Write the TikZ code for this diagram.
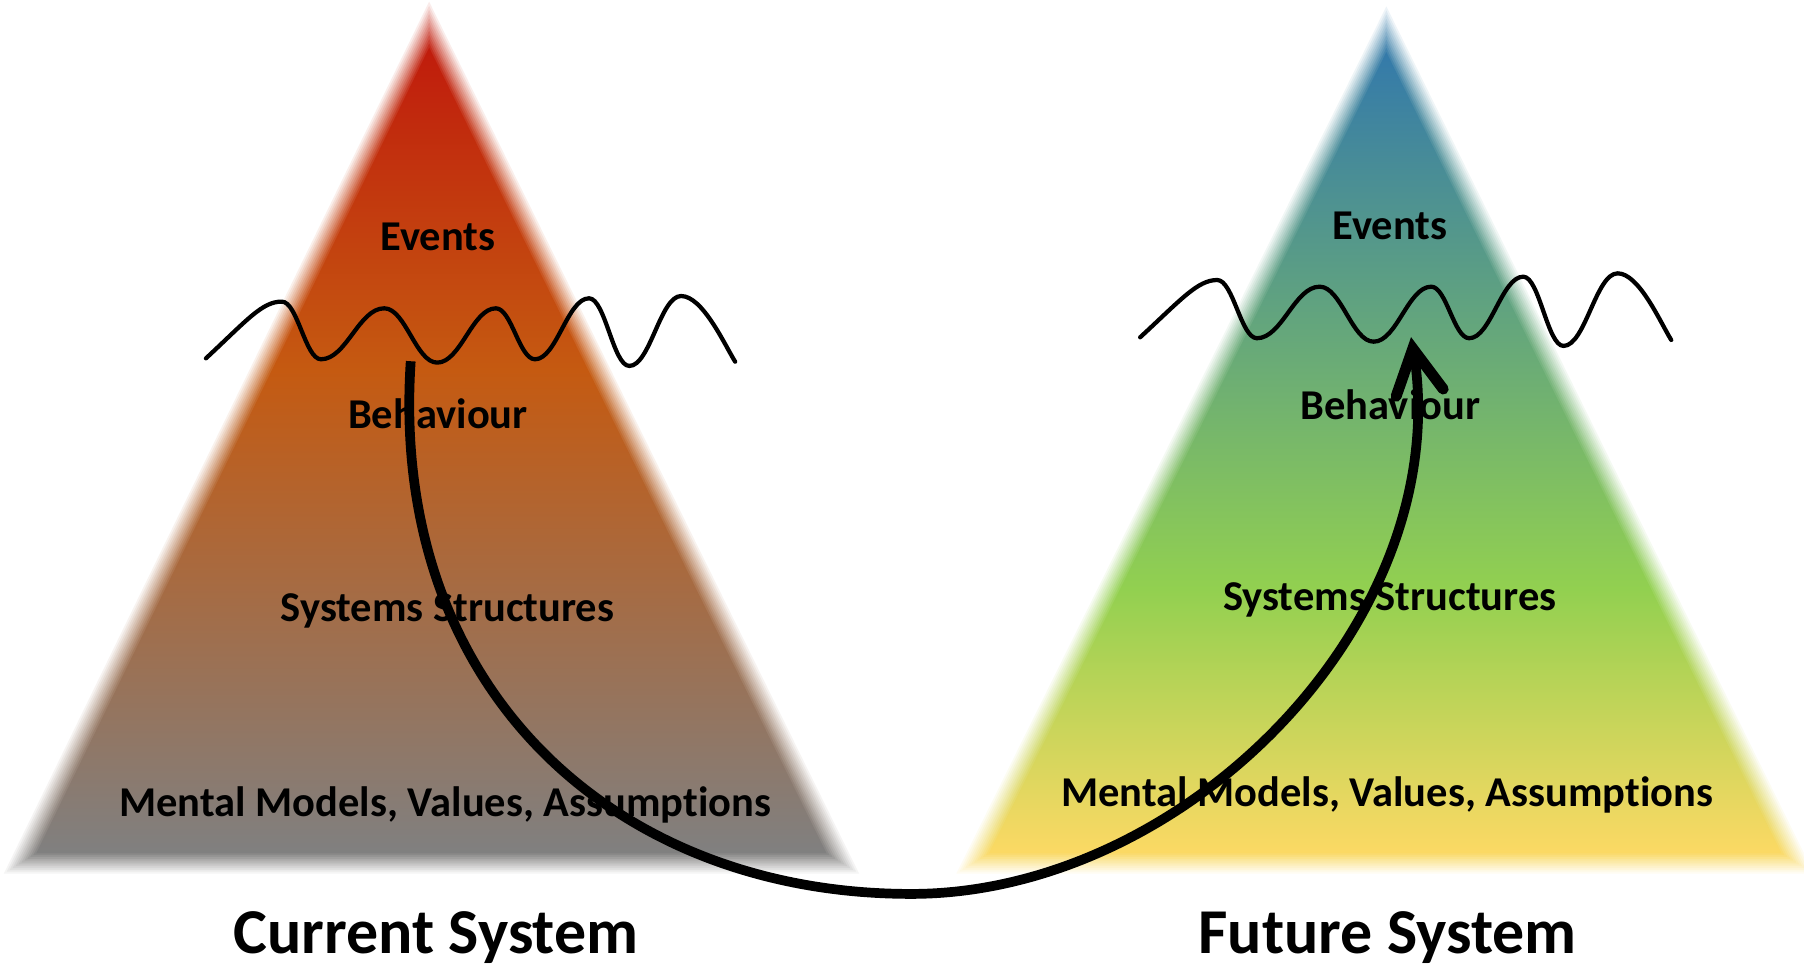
\documentclass[tikz,border=0pt]{standalone}
\usepackage{fontspec}
\setmainfont{Carlito}[Ligatures=NoCommon]
\usetikzlibrary{calc}
\definecolor{lgray}{RGB}{128,128,128}
\definecolor{lorange}{RGB}{197,90,17}
\definecolor{lred}{RGB}{192,28,12}
\definecolor{ryellow}{RGB}{252,217,100}
\definecolor{rgreen}{RGB}{146,208,80}
\definecolor{rblue}{RGB}{52,122,170}
\pgfdeclareverticalshading{leftpyr}{100bp}{color(0bp)=(lgray); color(25bp)=(lgray); color(55bp)=(lorange); color(75bp)=(lred); color(100bp)=(lred)}
\pgfdeclareverticalshading{rightpyr}{100bp}{color(0bp)=(ryellow); color(25bp)=(ryellow); color(41.5bp)=(rgreen); color(75bp)=(rblue); color(100bp)=(rblue)}
\begin{document}
\begin{tikzpicture}[x=0.01cm,y=0.01cm,
  lbl/.style={font=\fontsize{10.5}{12}\selectfont\bfseries, anchor=base, inner sep=0pt},
  ttl/.style={font=\fontsize{15.8}{18}\selectfont\bfseries, anchor=base, inner sep=0pt},
  wave/.style={line width=1.05pt, line cap=round, line join=round},
  shaft/.style={line width=2.4pt},
  head/.style={line width=2.7pt, line cap=round, line join=miter}]
\useasboundingbox (0,0) rectangle (1568,840);
% pyramids (true edges), incentres and inradii
\coordinate (LA) at (373,822); \coordinate (LB) at (15,88); \coordinate (LC) at (735,88);
\coordinate (LI) at (374.1,312.4);
\coordinate (RA) at (1205,818); \coordinate (RB) at (843,88); \coordinate (RC) at (1565,88);
\coordinate (RI) at (1204.4,312.2);
% soft (blurred) edges: stacked layers offset outward/inward
\foreach \n in {1,...,12} {
  \pgfmathsetmacro\off{0.8*(13-2*\n)-1.5}
  \pgfmathsetmacro\fl{(224.4+\off)/224.4}
  \pgfmathsetmacro\fr{(224.2+\off)/224.2}
  \pgfmathsetmacro\op{1/(13-\n)}
  \shade[shading=leftpyr, opacity=\op] ($(LI)!\fl!(LA)$) -- ($(LI)!\fl!(LB)$) -- ($(LI)!\fl!(LC)$) -- cycle;
  \shade[shading=rightpyr, opacity=\op] ($(RI)!\fr!(RA)$) -- ($(RI)!\fr!(RB)$) -- ($(RI)!\fr!(RC)$) -- cycle;
}
% labels
\node[lbl] (lev) at (380.5,622.5) {Events};
\node[lbl] (lbeh) at (380.6,467.4) {Behaviour};
\node[lbl] (lsys) at (389,299.5) {Systems Structures};
\node[lbl] (lmen) at (387,130) {Mental Models, Values, Assumptions};
\node[ttl] (lttl) at (379,11) {Current System};
\node[lbl] (rev) at (1208,632) {Events};
\node[lbl] (rbeh) at (1208.5,475.4) {Behaviour};
\node[lbl] (rsys) at (1208,309.2) {Systems Structures};
\node[lbl] (rmen) at (1205.6,138.6) {Mental Models, Values, Assumptions};
\node[ttl] (rttl) at (1206,11) {Future System};
% waves
\draw[wave] (179,528.5) .. controls (215,562) and (228,578) .. (245,577.8)
  .. controls (258.6,577.8) and (265.4,527.7) .. (279,527.7)
  .. controls (301,527.7) and (312,572) .. (334,572)
  .. controls (352.4,572) and (361.6,524.8) .. (380,524.8)
  .. controls (400.4,524.8) and (410.6,572) .. (431,572)
  .. controls (444.6,572) and (451.4,527.7) .. (465,527.7)
  .. controls (483.8,527.7) and (493.2,580.7) .. (512,580.7)
  .. controls (526,580.7) and (533,521.9) .. (547,521.9)
  .. controls (565,521.9) and (574,582.7) .. (592,582.7)
  .. controls (610.8,582.7) and (630,540) .. (639,525.6);
\draw[wave] (991,546.8) .. controls (1027,580) and (1041,596.6) .. (1058,596.6)
  .. controls (1071.8,596.6) and (1078.7,546) .. (1092.5,546)
  .. controls (1114.3,546) and (1125.2,590.8) .. (1147,590.8)
  .. controls (1165.8,590.8) and (1175.2,543) .. (1194,543)
  .. controls (1214,543) and (1224,590.8) .. (1244,590.8)
  .. controls (1257.2,590.8) and (1263.8,546) .. (1277,546)
  .. controls (1295.8,546) and (1305.2,599.5) .. (1324,599.5)
  .. controls (1338,599.5) and (1345,539.3) .. (1359,539.3)
  .. controls (1377.8,539.3) and (1387.2,602.4) .. (1406,602.4)
  .. controls (1424.6,602.4) and (1443,560) .. (1452.6,544.5);
% transition arrow
\coordinate (astart) at (357,526);
\coordinate (abot) at (792,63);
\coordinate (aend) at (1229,533);
\coordinate (atip) at (1228,537);
\coordinate (abl) at (1213.5,495.5);
\coordinate (abr) at (1254.4,501.8);
\draw[shaft] (astart) .. controls (338,240) and (535,63) .. (abot)
  .. controls (1030,63) and (1265,300) .. (aend);
\draw[head] (abl) -- (atip) -- (abr);
\end{tikzpicture}
\end{document}
